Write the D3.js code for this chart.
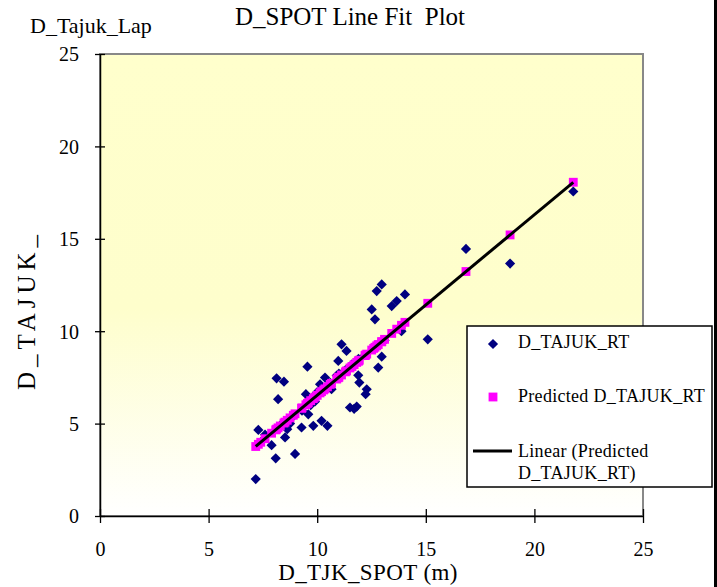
<!DOCTYPE html>
<html>
<head>
<meta charset="utf-8">
<script src="https://cdn.jsdelivr.net/npm/d3@7"></script>
<style>
  body { margin: 0; background: #fff; }
  svg, svg text { font-family: "Liberation Serif", "Times New Roman", Times, "DejaVu Serif", serif; }
</style>
</head>
<body>
<svg id="chart" width="717" height="587"></svg>
<script>
// D_TJK_SPOT (m) values
const spotValues = [7.17, 7.29, 7.4, 7.6, 7.9, 8.09, 8.13, 8.2, 8.3, 8.47, 8.52, 8.62, 8.75, 8.9, 8.98,
  9.28, 9.3, 9.48, 9.55, 9.59, 9.7, 9.82, 9.9, 10.0, 10.13, 10.2, 10.3, 10.36, 10.47, 10.6, 10.66,
  10.9, 10.97, 11.0, 11.12, 11.3, 11.35, 11.51, 11.6, 11.7, 11.82, 11.89, 11.9, 11.94, 12.2, 12.23,
  12.28, 12.51, 12.6, 12.66, 12.74, 12.81, 12.97, 12.97, 13.1, 13.43, 13.66, 13.88, 14.04, 15.09,
  16.85, 18.88, 21.79];
// D_TAJUK_RT observed
const tajukValues = [2.0, 4.66, 4.0, 4.4, 3.83, 3.12, 7.45, 6.32, 4.9, 7.27, 4.25, 4.7, 5.0, 5.4, 3.36,
  4.79, 5.7, 6.59, 8.08, 5.5, 6.0, 4.88, 6.2, 6.7, 7.13, 5.15, 6.9, 7.49, 4.88, 7.2, 6.86,
  7.6, 8.39, 7.7, 9.29, 7.9, 8.93, 5.87, 8.2, 5.8, 5.92, 7.61, 8.5, 7.22, 8.7, 6.59,
  6.86, 11.18, 9.1, 10.64, 12.17, 8.03, 8.62, 12.53, 9.5, 11.36, 11.63, 10.0, 11.99, 9.56,
  14.45, 13.66, 17.56];
// Predicted D_TAJUK_RT
const predictedValues = [3.76, 3.88, 3.99, 4.18, 4.48, 4.66, 4.70, 4.77, 4.87, 5.03, 5.08, 5.18, 5.31, 5.45, 5.53,
  5.83, 5.85, 6.02, 6.09, 6.13, 6.24, 6.35, 6.43, 6.53, 6.66, 6.73, 6.82, 6.88, 6.99, 7.12, 7.18,
  7.41, 7.48, 7.51, 7.63, 7.80, 7.85, 8.01, 8.09, 8.19, 8.31, 8.38, 8.39, 8.43, 8.68, 8.71,
  8.76, 8.98, 9.07, 9.13, 9.21, 9.28, 9.43, 9.43, 9.56, 9.88, 10.11, 10.32, 10.48, 11.51,
  13.23, 15.21, 18.06];
const xTicks = [0, 5, 10, 15, 20, 25];
const yTicks = [0, 5, 10, 15, 20, 25];
const legendLabels = ["D_TAJUK_RT", "Predicted D_TAJUK_RT", "Linear (Predicted", "D_TAJUK_RT)"];

const serif = '"Liberation Serif", "Times New Roman", Times, "DejaVu Serif", serif';
const plot = { left: 100, right: 643, top: 54, bottom: 516 };

const svg = d3.select("#chart");

const x = d3.scaleLinear().domain([0, 25]).range([plot.left, plot.right]);
const y = d3.scaleLinear().domain([0, 25]).range([plot.bottom, plot.top]);

// plot area gradient
const grad = svg.append("defs").append("linearGradient")
  .attr("id", "plotFill")
  .attr("x1", 0).attr("y1", 0).attr("x2", 0).attr("y2", 1);
grad.append("stop").attr("offset", "0%").attr("stop-color", "#ffffcc");
grad.append("stop").attr("offset", "55%").attr("stop-color", "#fefecc");
grad.append("stop").attr("offset", "100%").attr("stop-color", "#ffffff");

svg.append("rect")
  .attr("x", plot.left).attr("y", plot.top)
  .attr("width", plot.right - plot.left).attr("height", plot.bottom - plot.top)
  .attr("fill", "url(#plotFill)")
  .attr("stroke", "#888")
  .attr("stroke-width", 2);

// axes
const xAxis = svg.append("g")
  .attr("transform", `translate(0,${plot.bottom})`)
  .call(d3.axisBottom(x).tickValues(xTicks).tickSizeOuter(0).tickFormat(d3.format("d")))
  .attr("font-family", serif);
xAxis.select(".domain").attr("stroke", "#000").attr("stroke-width", 1.5);
xAxis.selectAll(".tick line").attr("y1", -7).attr("y2", 7).attr("stroke", "#000").attr("stroke-width", 1.3);
xAxis.selectAll(".tick text")
  .attr("y", 40).attr("dy", null)
  .attr("font-size", 20).attr("fill", "#000");

const yAxis = svg.append("g")
  .attr("transform", `translate(${plot.left},0)`)
  .call(d3.axisLeft(y).tickValues(yTicks).tickSizeOuter(0).tickFormat(d3.format("d")))
  .attr("font-family", serif);
yAxis.select(".domain").attr("stroke", "#000").attr("stroke-width", 1.5);
yAxis.selectAll(".tick line").attr("x1", -5).attr("x2", 5).attr("stroke", "#000").attr("stroke-width", 1.3);
yAxis.selectAll(".tick text")
  .attr("x", -21).attr("dy", "0.34em")
  .attr("font-size", 20).attr("fill", "#000");

// observed points (diamonds)
const diamond = d3.symbol(d3.symbolSquare, 52)();
const squareSym = d3.symbol(d3.symbolSquare, 78)();

svg.append("g").selectAll("path")
  .data(spotValues.map((v, i) => [v, tajukValues[i]]))
  .join("path")
  .attr("d", diamond)
  .attr("transform", d => `translate(${x(d[0])},${y(d[1])}) rotate(45)`)
  .attr("fill", "#000080");

// predicted points (squares)
svg.append("g").selectAll("path")
  .data(spotValues.map((v, i) => [v, predictedValues[i]]))
  .join("path")
  .attr("d", squareSym)
  .attr("transform", d => `translate(${x(d[0])},${y(d[1])})`)
  .attr("fill", "#ff00ff");

// linear trendline through predicted values
const mx = d3.mean(spotValues), my = d3.mean(predictedValues);
const slope = d3.sum(spotValues, (v, i) => (v - mx) * (predictedValues[i] - my)) /
  d3.sum(spotValues, v => (v - mx) * (v - mx));
const intercept = my - slope * mx;
const xExt = d3.extent(spotValues);
svg.append("path")
  .datum(xExt.map(v => [v, intercept + slope * v]))
  .attr("d", d3.line().x(d => x(d[0])).y(d => y(d[1])))
  .attr("stroke", "#000").attr("stroke-width", 3).attr("fill", "none");

// titles
svg.append("text")
  .attr("x", 350).attr("y", 25)
  .attr("text-anchor", "middle")
  .attr("font-family", serif)
  .attr("font-size", 25)
  .style("white-space", "pre")
  .text("D_SPOT Line Fit  Plot");

svg.append("text")
  .attr("x", 30).attr("y", 33)
  .attr("font-family", serif)
  .attr("font-size", 22)
  .text("D_Tajuk_Lap");

svg.append("text")
  .attr("x", 368).attr("y", 580)
  .attr("text-anchor", "middle")
  .attr("font-family", serif)
  .attr("font-size", 23)
  .attr("letter-spacing", 0.4)
  .text("D_TJK_SPOT (m)");

svg.append("text")
  .attr("transform", "translate(35,310) rotate(-90)")
  .attr("text-anchor", "middle")
  .attr("font-family", serif)
  .attr("font-size", 25)
  .attr("letter-spacing", 5)
  .text("D_TAJUK_");

// legend
const legend = svg.append("g").attr("transform", "translate(467,326)");
legend.append("rect")
  .attr("width", 245).attr("height", 161)
  .attr("fill", "#fff").attr("stroke", "#000").attr("stroke-width", 1.5);

legend.append("path")
  .attr("d", diamond)
  .attr("transform", "translate(26,18) rotate(45)")
  .attr("fill", "#000080");
legend.append("path")
  .attr("d", squareSym)
  .attr("transform", "translate(26,71)")
  .attr("fill", "#ff00ff");
legend.append("line")
  .attr("x1", 6).attr("x2", 45).attr("y1", 125).attr("y2", 125)
  .attr("stroke", "#000").attr("stroke-width", 3);

const legendY = [22, 76, 131, 153];
legend.selectAll("text.leg")
  .data(legendLabels)
  .join("text")
  .attr("class", "leg")
  .attr("x", 51)
  .attr("y", (d, i) => legendY[i])
  .attr("font-family", serif)
  .attr("font-size", 18)
  .attr("letter-spacing", 0.3)
  .text(d => d);

// chart area frame edge on the right
svg.append("line")
  .attr("x1", 715.5).attr("x2", 715.5).attr("y1", 0).attr("y2", 587)
  .attr("stroke", "#000").attr("stroke-width", 3);
</script>
</body>
</html>
